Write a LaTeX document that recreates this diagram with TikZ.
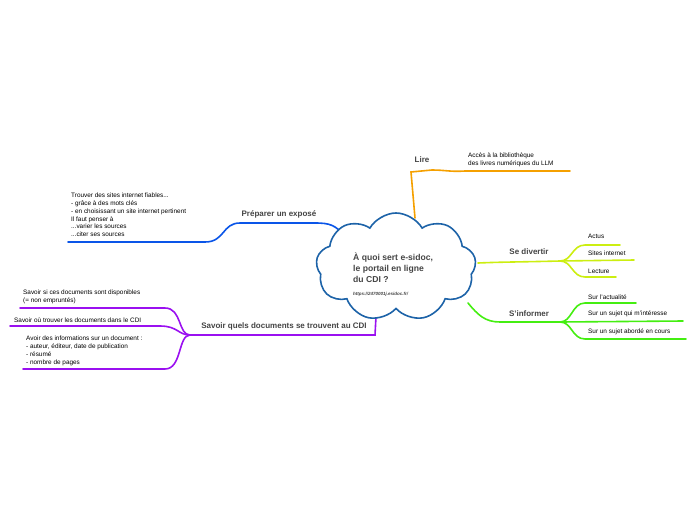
\documentclass[tikz,border=0pt]{standalone}
\usepackage{fontspec}
\setmainfont{Liberation Sans}
\usetikzlibrary{shapes.symbols}
\definecolor{cblue}{HTML}{1D63A8}
\definecolor{bblue}{HTML}{0A55E8}
\definecolor{corange}{HTML}{F5A000}
\definecolor{cpurple}{HTML}{9A10F0}
\definecolor{cyel}{HTML}{CCEE11}
\definecolor{cgreen}{HTML}{44EE11}
\definecolor{tgray}{HTML}{444444}
\begin{document}
\begin{tikzpicture}[x=1pt,y=-1pt,
  br/.style={line width=1.6pt,line cap=round},
  lab/.style={font=\fontsize{8}{9}\selectfont\bfseries,text=tgray,inner sep=0pt},
  leaf/.style={font=\fontsize{6.4}{7.8}\selectfont,text=black,inner sep=0pt,align=left,anchor=west}]
\useasboundingbox (0,0) rectangle (696,520);
\coordinate (lireA) at (415,218);
\draw[br,corange] (lireA) -- (411,172) -- (432,170) .. controls (445,170) and (450,172) .. (465,171) -- (570,171);
\draw[br,bblue] (345,236) .. controls (335,225) and (330,223) .. (315,223) -- (240,223) .. controls (222,223) and (225,242) .. (205,242) -- (68,242);
\draw[br,cpurple] (377,298) -- (375,335) -- (190,335);
\draw[br,cpurple] (190,335) .. controls (178,335) and (182,308) .. (165,308) -- (20,308);
\draw[br,cpurple] (190,335) .. controls (178,335) and (178,326) .. (160,326) -- (10,326);
\draw[br,cpurple] (190,335) .. controls (178,335) and (182,369) .. (165,369) -- (23,369);
\draw[br,cyel] (478,263) .. controls (500,262) and (520,262) .. (560,261);
\draw[br,cyel] (560,261) .. controls (572,261) and (572,245) .. (585,245) -- (620,245);
\draw[br,cyel] (560,261) -- (634,260);
\draw[br,cyel] (560,261) .. controls (572,261) and (572,277) .. (585,277) -- (616,277);
\draw[br,cgreen] (468,303) .. controls (478,315) and (485,322) .. (500,322) -- (560,322);
\draw[br,cgreen] (560,322) .. controls (572,322) and (572,303) .. (585,303) -- (636,303);
\draw[br,cgreen] (560,322) -- (683,321);
\draw[br,cgreen] (560,322) .. controls (572,322) and (572,339) .. (585,339) -- (686,339);
\node[cloud,draw=cblue,line width=1.6pt,fill=white,cloud puffs=9,cloud puff arc=120,aspect=1.6,minimum width=160pt,minimum height=108pt] (c) at (396,267) {};
\node[anchor=west,align=left,font=\fontsize{8.6}{11}\selectfont\bfseries,text=tgray,inner sep=0pt] (ct) at (353,268) {À quoi sert e-sidoc,\\le portail en ligne\\du CDI ?};
\node[anchor=west,font=\fontsize{4.5}{5}\selectfont\bfseries\itshape,text=tgray,inner sep=0pt] (url) at (353,294) {https://2470001j.esidoc.fr/};
\node[lab] (lire) at (422,160) {Lire};
\node[lab] (prep) at (279,214) {Préparer un exposé};
\node[lab] (sav) at (284,326) {Savoir quels documents se trouvent au CDI};
\node[lab] (div) at (529,252) {Se divertir};
\node[lab] (inf) at (529,314) {S'informer};
\node[leaf] (l1) at (468,160) {Accès à la bibliothèque\\des livres numériques du LLM};
\node[leaf] (p1) at (71,215) {Trouver des sites internet fiables...\\- grâce à des mots clés\\- en choisissant un site internet pertinent\\Il faut penser à\\...varier les sources\\...citer ses sources};
\node[leaf] (s1) at (23,297) {Savoir si ces documents sont disponibles\\(= non empruntés)};
\node[leaf] (s2) at (14,320) {Savoir où trouver les documents dans le CDI};
\node[leaf] (s3) at (26,351) {Avoir des informations sur un document :\\- auteur, éditeur, date de publication\\- résumé\\- nombre de pages};
\node[leaf] (d1) at (588,236) {Actus};
\node[leaf] (d2) at (588,253) {Sites internet};
\node[leaf] (d3) at (588,271) {Lecture};
\node[leaf] (i1) at (588,297) {Sur l'actualité};
\node[leaf] (i2) at (588,314) {Sur un sujet qui m'intéresse};
\node[leaf] (i3) at (588,332) {Sur un sujet abordé en cours};
\end{tikzpicture}
\end{document}
